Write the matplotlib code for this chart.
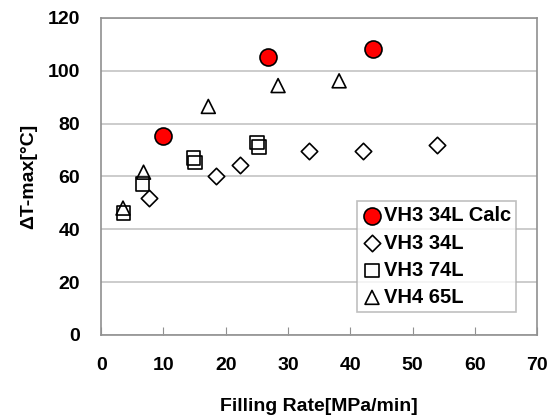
import matplotlib.pyplot as plt

plt.rcParams['font.family'] = ['Liberation Sans', 'DejaVu Sans']
plt.rcParams['font.weight'] = 'bold'

# data
calc_x = [9.9, 26.8, 43.7]
calc_y = [75.2, 105.2, 108.3]

vh3_34_x = [7.6, 18.4, 22.3, 33.3, 42.0, 53.9]
vh3_34_y = [51.8, 60.0, 64.2, 69.8, 69.8, 72.0]

vh3_74_x = [3.6, 6.6, 14.8, 15.1, 25.0, 25.3]
vh3_74_y = [46.1, 57.2, 67.0, 65.3, 72.9, 71.1]

vh4_65_x = [3.5, 6.8, 17.2, 28.4, 38.2]
vh4_65_y = [48.0, 61.6, 86.5, 94.4, 96.2]

fig = plt.figure(figsize=(5.47, 4.18), dpi=100)
ax = fig.add_axes([0.185, 0.199, 0.797, 0.758])

ax.scatter(calc_x, calc_y, s=150, marker='o', facecolor='red',
           edgecolor='black', linewidth=1.2, label='VH3 34L Calc', zorder=4)
ax.scatter(vh3_34_x, vh3_34_y, s=70, marker='D', facecolor='white',
           edgecolor='black', linewidth=1.2, label='VH3 34L', zorder=3)
ax.scatter(vh3_74_x, vh3_74_y, s=95, marker='s', facecolor='none',
           edgecolor='black', linewidth=1.2, label='VH3 74L', zorder=3)
ax.scatter(vh4_65_x, vh4_65_y, s=100, marker='^', facecolor='none',
           edgecolor='black', linewidth=1.2, label='VH4 65L', zorder=3)

ax.set_xlim(0, 70)
ax.set_ylim(0, 120)
ax.set_xticks(range(0, 71, 10))
ax.set_yticks(range(0, 121, 20))
ax.grid(axis='y', color='#c8c8c8', linewidth=1.3)
ax.set_axisbelow(True)

for sp in ax.spines.values():
    sp.set_color('#909090')
    sp.set_linewidth(1.2)

ax.tick_params(axis='x', direction='in', length=6, color='#909090',
               labelsize=14, pad=16)
ax.tick_params(axis='y', length=0, labelsize=14, pad=15)

ax.set_xlabel('Filling Rate[MPa/min]', fontsize=14, fontweight='bold', labelpad=17)
ax.set_ylabel('ΔT-max[°C]', fontsize=14, fontweight='bold', labelpad=8)

leg = ax.legend(loc='lower right', bbox_to_anchor=(0.952, 0.073), fontsize=14.5,
                frameon=True, fancybox=False, handletextpad=0.1,
                borderpad=0.25, labelspacing=0.4, handlelength=1.0,
                borderaxespad=0, markerscale=1.0)
leg.get_frame().set_edgecolor('#b0b0b0')
leg.get_frame().set_linewidth(1.2)

fig.savefig('out.png', dpi=100)
